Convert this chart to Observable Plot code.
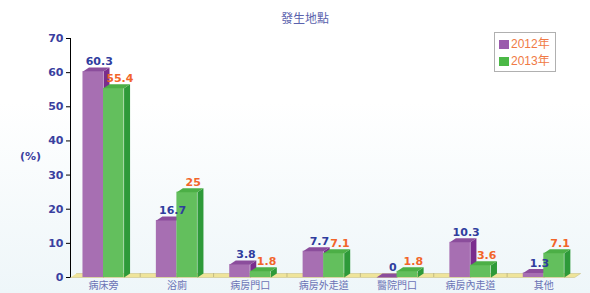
<!DOCTYPE html>
<html>
<head>
<meta charset="utf-8">
<script src="https://cdn.jsdelivr.net/npm/d3@7"></script>
<script src="https://cdn.jsdelivr.net/npm/@observablehq/plot@0.6"></script>
<style>
  html, body { margin: 0; padding: 0; background: #fff; }
  #wrap { position: relative; width: 590px; height: 293px; overflow: hidden;
    background: linear-gradient(to bottom, #ffffff 0%, #ffffff 35%, #eef6f9 100%); }
  #title { position: absolute; left: 0; width: 610px; top: 9px; text-align: center;
    font: 12px "Noto Sans CJK TC", sans-serif; color: #5b62ad; }
  #legend { position: absolute; left: 494px; top: 32px; width: 62px; height: 40px;
    border: 1px solid #b0b0b0; background: #fff; box-sizing: border-box;
    font: 12px "Liberation Sans", "Noto Sans CJK TC", sans-serif; color: #f07a45; }
  #legend .row { position: absolute; left: 4px; height: 14px; line-height: 14px; white-space: nowrap; }
  #legend .sw { display: inline-block; width: 10px; height: 9px; margin-right: 2px; vertical-align: -1px; }
  #yl { position: absolute; left: 20px; top: 150px; font: bold 11px "DejaVu Sans", sans-serif; color: #3a40a0; }
  svg g[aria-label^="y-axis"] text { font: bold 11px "DejaVu Sans", sans-serif; fill: #3a3fa0; }
  svg g[aria-label^="x-axis"] text { font: 10px "Noto Sans CJK TC", sans-serif; fill: #6a72b5; }
</style>
</head>
<body>
<div id="wrap">
  <div id="title"></div>
  <div id="yl"></div>
  <div id="legend"></div>
</div>
<script>
const title = "發生地點";
const yLabel = "(%)";
const categories = ["病床旁", "浴廁", "病房門口", "病房外走道", "醫院門口", "病房內走道", "其他"];
const years = ["2012年", "2013年"];
const values2012 = [60.3, 16.7, 3.8, 7.7, 0, 10.3, 1.3];
const values2013 = [55.4, 25, 1.8, 7.1, 1.8, 3.6, 7.1];
const yTicks = [0, 10, 20, 30, 40, 50, 60, 70];

const colors = {
  "2012年": {front: "#a76fb2", side: "#7a2d8d", top: "#8b4d9c", label: "#2f3d9e"},
  "2013年": {front: "#63bf5d", side: "#2e9a39", top: "#4caf46", label: "#f2652a"}
};

const W = 590, H = 293, mL = 70, mR = 10, mT = 38, mB = 16;
const xDomain = [-0.45, 6.5];
const yDomain = [0, 70];
const kx = (xDomain[1] - xDomain[0]) / (W - mL - mR);
const ky = (yDomain[1] - yDomain[0]) / (H - mT - mB);
const depthX = 6 * kx, depthY = 4 * ky;
const half = 0.28;

// table of bars
const bars = [];
categories.forEach((c, i) => {
  bars.push({cat: c, i, year: years[0], v: values2012[i], x1: i - half, x2: i});
  bars.push({cat: c, i, year: years[1], v: values2013[i], x1: i, x2: i + half});
});

function sidePoly(b) {
  const id = b.year + b.i + "s";
  return [
    {id, x: b.x2, y: 0}, {id, x: b.x2, y: b.v},
    {id, x: b.x2 + depthX, y: b.v + depthY}, {id, x: b.x2 + depthX, y: depthY}
  ];
}
function topPoly(b) {
  const id = b.year + b.i + "t";
  return [
    {id, x: b.x1, y: b.v}, {id, x: b.x2, y: b.v},
    {id, x: b.x2 + depthX, y: b.v + depthY}, {id, x: b.x1 + depthX, y: b.v + depthY}
  ];
}

const floorEnd = 6.42;
const floor = [
  {id: "f", x: xDomain[0], y: 0}, {id: "f", x: floorEnd, y: 0},
  {id: "f", x: floorEnd + depthX, y: depthY}, {id: "f", x: xDomain[0] + depthX, y: depthY}
];

const marks = [
  Plot.line(floor, {x: "x", y: "y", z: "id", fill: "#efe49a", stroke: "#c9c38a", strokeWidth: 0.6, curve: "linear"}),
  Plot.ruleX(d3.range(0.5, 6.5, 1), {x: d => d, y1: 0, y2: depthY, stroke: "#b8b080", strokeWidth: 0.8})
];
for (const yr of years) {
  const bs = bars.filter(b => b.year === yr);
  const col = colors[yr];
  marks.push(Plot.rect(bs, {x1: "x1", x2: "x2", y1: 0, y2: "v", fill: col.front}));
  marks.push(Plot.line(bs.flatMap(sidePoly), {x: "x", y: "y", z: "id", fill: col.side, stroke: "none", curve: "linear"}));
  marks.push(Plot.line(bs.flatMap(topPoly), {x: "x", y: "y", z: "id", fill: col.top, stroke: "none", curve: "linear"}));
}
for (const yr of years) {
  const bs = bars.filter(b => b.year === yr);
  marks.push(Plot.text(bs, {
    x: b => (b.x1 + b.x2) / 2, y: "v", text: b => String(b.v), dx: 6, dy: -10,
    fill: colors[yr].label, fontWeight: "bold", fontSize: 11, fontFamily: "DejaVu Sans"
  }));
}

const chart = Plot.plot({
  width: W, height: H,
  marginLeft: mL, marginRight: mR, marginTop: mT, marginBottom: mB,
  style: {background: "transparent", overflow: "visible"},
  x: {type: "linear", domain: xDomain, ticks: d3.range(categories.length), tickFormat: i => categories[i], tickSize: 0, tickPadding: 4, label: null},
  y: {domain: yDomain, ticks: yTicks, tickSize: 4, tickPadding: 3, label: null, line: true},
  marks
});

const wrap = document.getElementById("wrap");
wrap.appendChild(chart);
chart.style.position = "absolute";
chart.style.left = "0";
chart.style.top = "0";
document.getElementById("title").textContent = title;
document.getElementById("yl").textContent = yLabel;
const legend = document.getElementById("legend");
years.forEach((yr, k) => {
  const row = document.createElement("div");
  row.className = "row";
  row.style.top = (4 + k * 17) + "px";
  const sw = document.createElement("span");
  sw.className = "sw";
  sw.style.background = k === 0 ? "#9a5aac" : "#4bb846";
  row.appendChild(sw);
  row.appendChild(document.createTextNode(yr));
  legend.appendChild(row);
});
</script>
</body>
</html>
